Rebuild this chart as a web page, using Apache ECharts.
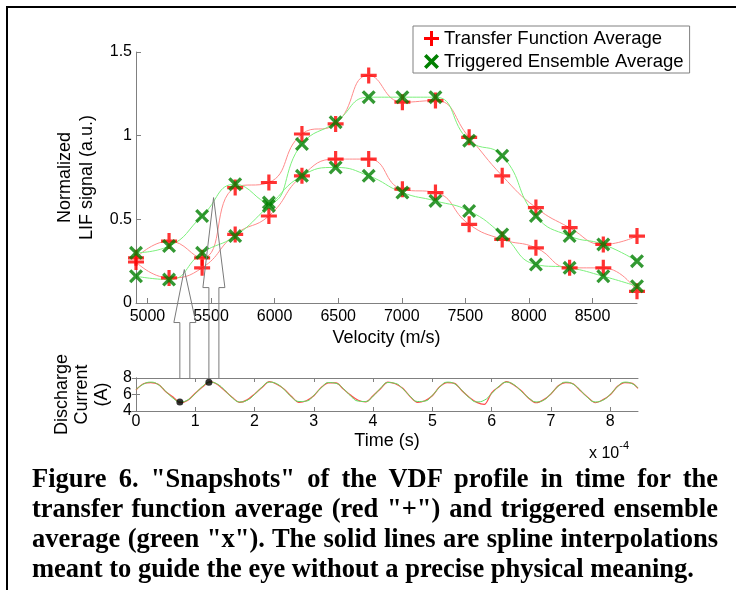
<!DOCTYPE html>
<html>
<head>
<meta charset="utf-8">
<title>VDF snapshots</title>
<script src="https://cdn.jsdelivr.net/npm/echarts@6/dist/echarts.min.js"></script>
<style>
html, body { margin: 0; padding: 0; background: #fff; }
#wrap { position: relative; width: 736px; height: 590px; overflow: hidden; }
#chart { position: absolute; left: 0; top: 0; width: 736px; height: 590px; }
#frame { position: absolute; left: 6px; top: 6px; width: 760px; height: 620px; border-top: 2px solid #000; border-left: 2px solid #000; }
#scale { position: absolute; left: 589px; top: 442px; font: 16px 'Liberation Sans', Arial, sans-serif; color: #000; }
#scale sup { font-size: 11px; position: relative; top: -3px; }
#caption { position: absolute; left: 32px; top: 463px; width: 686px; font: bold 26.5px/30px 'Liberation Serif', 'Times New Roman', serif; color: #000; }
#caption div { text-align: justify; text-align-last: justify; white-space: nowrap; }
#caption div.last { text-align-last: left; }
</style>
</head>
<body>
<div id="wrap">
  <div id="chart"></div>
  <div id="frame"></div>
  <div id="scale">x 10<sup>-4</sup></div>
  <div id="caption">
    <div>Figure 6. "Snapshots" of the VDF profile in time for the</div>
    <div>transfer function average (red "+") and triggered ensemble</div>
    <div>average (green "x"). The solid lines are spline interpolations</div>
    <div class="last">meant to guide the eye without a precise physical meaning.</div>
  </div>
</div>
<script>
// velocity bins (m/s)
var velocity = [4910, 5170, 5430, 5690, 5955, 6215, 6480, 6740, 7005, 7265, 7530, 7790, 8055, 8320, 8585, 8850];
// snapshot at the current maximum (upper curves)
var tfaHigh = [0.27, 0.37, 0.27, 0.69, 0.72, 1.01, 1.07, 1.36, 1.20, 1.21, 0.99, 0.76, 0.57, 0.45, 0.35, 0.40];
var teaHigh = [0.30, 0.34, 0.52, 0.71, 0.60, 0.95, 1.08, 1.23, 1.23, 1.23, 0.97, 0.88, 0.52, 0.40, 0.35, 0.25];
// snapshot at the current minimum (lower curves)
var tfaLow = [0.245, 0.15, 0.21, 0.41, 0.52, 0.76, 0.86, 0.86, 0.68, 0.66, 0.47, 0.38, 0.33, 0.21, 0.21, 0.07];
var teaLow = [0.16, 0.14, 0.30, 0.40, 0.58, 0.76, 0.81, 0.76, 0.66, 0.61, 0.55, 0.41, 0.23, 0.21, 0.16, 0.10];

// discharge current trace, time in units of 1e-4 s
var timeSamples = [0, 0.125, 0.25, 0.375, 0.5, 0.625, 0.75, 0.875, 1, 1.125, 1.25, 1.375, 1.5, 1.625, 1.75, 1.875,
  2, 2.125, 2.25, 2.375, 2.5, 2.625, 2.75, 2.875, 3, 3.125, 3.25, 3.375, 3.5, 3.625, 3.75, 3.875,
  4, 4.125, 4.25, 4.375, 4.5, 4.625, 4.75, 4.875, 5, 5.125, 5.25, 5.375, 5.5, 5.625, 5.75, 5.875,
  6, 6.125, 6.25, 6.375, 6.5, 6.625, 6.75, 6.875, 7, 7.125, 7.25, 7.375, 7.5, 7.625, 7.75, 7.875,
  8, 8.125, 8.25, 8.375, 8.47];
var currentGreen = [6.6, 7.25, 7.5, 7.2, 6.4, 5.55, 5.1, 5.35, 6.1, 7.0, 7.5, 7.25, 6.5, 5.6, 5.1, 5.3,
  6.0, 6.9, 7.5, 7.3, 6.6, 5.7, 5.15, 5.2, 5.9, 6.8, 7.45, 7.35, 6.7, 5.8, 5.2, 5.15,
  5.8, 6.75, 7.45, 7.35, 6.7, 5.8, 5.15, 5.2, 5.9, 6.9, 7.5, 7.3, 6.5, 5.6, 5.1, 5.3,
  6.1, 7.0, 7.5, 7.2, 6.4, 5.6, 5.1, 5.3, 6.1, 7.0, 7.5, 7.25, 6.5, 5.6, 5.1, 5.3,
  6.0, 6.95, 7.5, 7.3, 6.8];
var currentRed = [6.55, 7.3, 7.45, 7.25, 6.35, 5.7, 5.0, 5.3, 6.15, 6.95, 7.55, 7.2, 6.45, 5.65, 5.05, 5.35,
  6.05, 6.85, 7.55, 7.25, 6.65, 5.75, 5.05, 5.25, 5.85, 6.85, 7.4, 7.4, 6.65, 5.9, 5.3, 5.1,
  5.85, 6.7, 7.5, 7.3, 6.75, 5.75, 5.05, 5.25, 5.85, 6.95, 7.45, 7.35, 6.45, 5.65, 5.05, 4.8,
  6.2, 6.95, 7.55, 7.15, 6.45, 5.55, 5.0, 5.35, 6.05, 7.05, 7.45, 7.3, 6.45, 5.65, 5.0, 5.35,
  5.95, 7.0, 7.45, 7.35, 6.75];
// snapshot instants marked on the current trace
var snapT = [0.74, 1.23];
var snapI = [5.1, 7.5];
// where the arrows point in the VDF panel
var arrowTargetV = [5290, 5520];
var arrowTargetS = [0.20, 0.63];

var velTicks = [5000, 5500, 6000, 6500, 7000, 7500, 8000, 8500];
var timeTicks = [0, 1, 2, 3, 4, 5, 6, 7, 8];

function pairs(xs, ys) {
  return xs.map(function (x, i) { return [x, ys[i]]; });
}
function plain(v) { return String(v); }

var plusPath = 'path://M-1,-5L1,-5L1,-1L5,-1L5,1L1,1L1,5L-1,5L-1,1L-5,1L-5,-1L-1,-1Z';
var crossPath = 'path://M4,-6L6,-4L2,0L6,4L4,6L0,2L-4,6L-6,4L-2,0L-6,-4L-4,-6L0,-2Z';
var FONT = "'Liberation Sans', Arial, sans-serif";
var RED = '#ff0000', GREEN = '#008000';
var RED_LINE = '#ff8a8a', GREEN_LINE = '#7cf07c';
var AX = '#808080';

var myChart = echarts.init(document.getElementById('chart'));

function lineSeries(name, data, color) {
  return {
    name: name, type: 'line', xAxisIndex: 0, yAxisIndex: 0,
    data: data, smooth: 0.5, showSymbol: false, symbol: 'none',
    lineStyle: { color: color, width: 1 }, itemStyle: { color: color === RED_LINE ? RED : GREEN },
    z: 2, silent: true
  };
}
function markSeries(name, data, sym, size, color) {
  return {
    name: name, type: 'scatter', xAxisIndex: 0, yAxisIndex: 0,
    data: data, symbol: sym, symbolSize: size, symbolKeepAspect: true,
    itemStyle: { color: color }, z: color === RED ? 3 : 4
  };
}

var TFA = 'Transfer Function Average', TEA = 'Triggered Ensemble Average';

var option = {
  animation: false,
  textStyle: { fontFamily: FONT },
  legend: {
    data: [{ name: TFA, icon: plusPath }, { name: TEA, icon: crossPath }],
    orient: 'vertical', left: 413, top: 26,
    itemWidth: 15, itemHeight: 15, itemGap: 4,
    padding: [3, 6, 2, 11],
    borderColor: AX, borderWidth: 1, backgroundColor: '#fff',
    textStyle: { fontSize: 18.5, color: '#000', fontFamily: FONT }
  },
  grid: [
    { left: 136, right: 99, top: 52, bottom: 287 },
    { left: 136, right: 98, top: 378, height: 33 }
  ],
  xAxis: [
    {
      type: 'value', gridIndex: 0, min: 4910, max: 8850,
      name: 'Velocity (m/s)', nameLocation: 'middle', nameGap: 26,
      nameTextStyle: { fontSize: 18, color: '#000', fontFamily: FONT },
      axisLine: { lineStyle: { color: AX } },
      axisTick: { inside: true, length: 5, customValues: velTicks, lineStyle: { color: AX } },
      axisLabel: { customValues: velTicks, formatter: plain, fontSize: 16, color: '#000', margin: 6, fontFamily: FONT },
      splitLine: { show: false }
    },
    {
      type: 'value', gridIndex: 1, min: 0, max: 8.47,
      name: 'Time (s)', nameLocation: 'middle', nameGap: 21,
      nameTextStyle: { fontSize: 18, color: '#000', fontFamily: FONT },
      axisLine: { lineStyle: { color: AX } },
      axisTick: { inside: true, length: 4, customValues: timeTicks, lineStyle: { color: AX } },
      axisLabel: { customValues: timeTicks, formatter: plain, fontSize: 16, color: '#000', margin: 3, fontFamily: FONT },
      splitLine: { show: false }
    },
    {
      type: 'value', gridIndex: 1, min: 0, max: 8.47, position: 'top',
      axisLine: { lineStyle: { color: AX } },
      axisTick: { inside: true, length: 4, customValues: timeTicks, lineStyle: { color: AX } },
      axisLabel: { show: false },
      splitLine: { show: false }
    }
  ],
  yAxis: [
    {
      type: 'value', gridIndex: 0, min: 0, max: 1.5, interval: 0.5,
      name: 'Normalized\nLIF signal (a.u.)', nameLocation: 'middle', nameGap: 38,
      nameTextStyle: { fontSize: 18, lineHeight: 22, color: '#000', fontFamily: FONT },
      axisLine: { show: true, lineStyle: { color: AX } },
      axisTick: { show: true, inside: true, length: 5, lineStyle: { color: AX } },
      axisLabel: { formatter: plain, fontSize: 16, color: '#000', margin: 4, fontFamily: FONT },
      splitLine: { show: false }
    },
    {
      type: 'value', gridIndex: 1, min: 4, max: 8, interval: 2,
      name: 'Discharge\nCurrent\n(A)', nameLocation: 'middle', nameGap: 20,
      nameTextStyle: { fontSize: 18, lineHeight: 20, color: '#000', fontFamily: FONT },
      axisLine: { show: true, lineStyle: { color: AX } },
      axisTick: { show: true, inside: true, length: 4, lineStyle: { color: AX } },
      axisLabel: { formatter: plain, fontSize: 16, color: '#000', margin: 4, fontFamily: FONT },
      splitLine: { show: false }
    },
    {
      type: 'value', gridIndex: 1, min: 4, max: 8, interval: 2, position: 'right',
      axisLine: { show: true, lineStyle: { color: AX } },
      axisTick: { show: true, inside: true, length: 4, lineStyle: { color: AX } },
      axisLabel: { show: false },
      splitLine: { show: false }
    }
  ],
  series: [
    lineSeries(TFA, pairs(velocity, tfaHigh), RED_LINE),
    lineSeries(TFA, pairs(velocity, tfaLow), RED_LINE),
    lineSeries(TEA, pairs(velocity, teaHigh), GREEN_LINE),
    lineSeries(TEA, pairs(velocity, teaLow), GREEN_LINE),
    markSeries(TFA, pairs(velocity, tfaHigh), plusPath, 16, RED),
    markSeries(TFA, pairs(velocity, tfaLow), plusPath, 16, RED),
    markSeries(TEA, pairs(velocity, teaHigh), crossPath, 14, GREEN),
    markSeries(TEA, pairs(velocity, teaLow), crossPath, 14, GREEN),
    {
      name: 'current (transfer fn)', type: 'line', xAxisIndex: 1, yAxisIndex: 1,
      data: pairs(timeSamples, currentRed), smooth: 0.3, showSymbol: false,
      lineStyle: { color: '#ff4a4a', width: 1.2 }, silent: true, z: 2
    },
    {
      name: 'current (ensemble)', type: 'line', xAxisIndex: 1, yAxisIndex: 1,
      data: pairs(timeSamples, currentGreen), smooth: 0.5, showSymbol: false,
      lineStyle: { color: '#5fdc5f', width: 1 }, silent: true, z: 3
    },
    {
      name: 'snapshots', type: 'scatter', xAxisIndex: 1, yAxisIndex: 1,
      data: pairs(snapT, snapI), symbolSize: 7, itemStyle: { color: '#000' }, z: 5
    }
  ]
};
myChart.setOption(option);

// hollow arrows from the marked instants up to the VDF panel
function buildArrows() {
  var els = [];
  var headLen = [53, 90];
  for (var i = 0; i < snapT.length; i++) {
    var dot = myChart.convertToPixel({ xAxisIndex: 1, yAxisIndex: 1 }, [snapT[i], snapI[i]]);
    var bottom = myChart.convertToPixel({ xAxisIndex: 1, yAxisIndex: 1 }, [snapT[i], 8]);
    var tip = myChart.convertToPixel({ xAxisIndex: 0, yAxisIndex: 0 }, [arrowTargetV[i], arrowTargetS[i]]);
    var cx = dot[0] + 5;
    var yb = bottom[1];
    var yh = tip[1] + headLen[i];
    els.push({
      type: 'polyline', silent: true, z: 10,
      shape: { points: [[cx - 5, yb], [cx - 5, yh], [cx - 11, yh], [tip[0], tip[1]], [cx + 11, yh], [cx + 5, yh], [cx + 5, yb]] },
      style: { stroke: '#7a7a7a', lineWidth: 1, fill: null }
    });
  }
  myChart.setOption({ graphic: els });
}
buildArrows();
</script>
</body>
</html>
